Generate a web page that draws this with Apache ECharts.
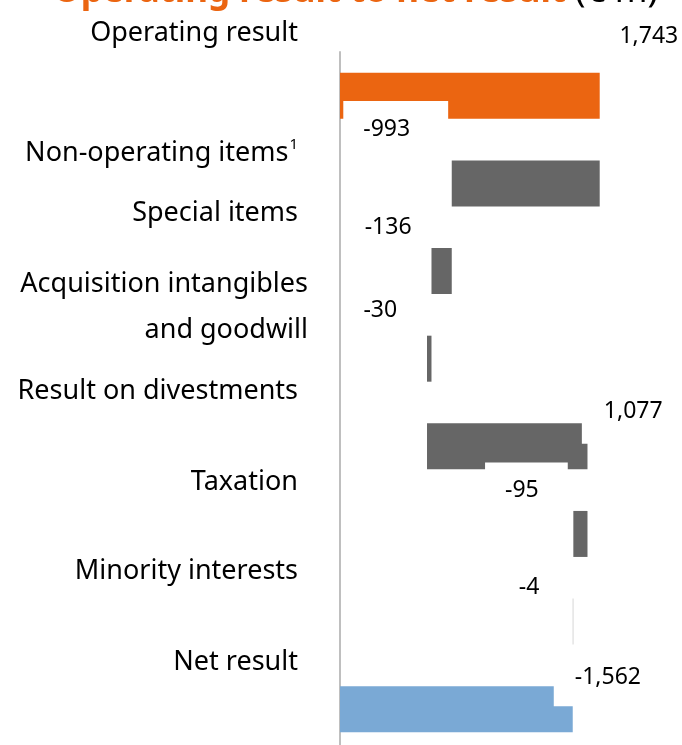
<!DOCTYPE html>
<html>
<head>
<meta charset="utf-8">
<script src="https://cdn.jsdelivr.net/npm/echarts@6/dist/echarts.min.js"></script>
<style>
  html, body { margin: 0; padding: 0; background: #fff; }
  #chart { width: 682px; height: 745px; }
</style>
</head>
<body>
<div id="chart"></div>
<script>
// waterfall steps, € m
var categories = ['Operating result', 'Non-operating items', 'Special items',
  'Acquisition intangibles\nand goodwill', 'Result on divestments', 'Taxation',
  'Minority interests', 'Net result'];
var values = [1743, -993, -136, -30, 1077, -95, -4, 1562];
var isTotal = [true, false, false, false, false, false, false, true];
var valueLabels = ['1,743', '-993', '-136', '-30', '1,077', '-95', '-4', '-1,562'];

var FONT = '"Noto Sans", sans-serif';
var ORANGE = '#EB6511';
var GREY = '#666666';
var BLUE = '#7AA9D5';

// running total -> invisible base + visible step
var base = [], step = [], run = 0;
values.forEach(function (v, i) {
  if (isTotal[i]) {
    base.push(0);
    step.push(Math.abs(v));
    run = v;
  } else {
    var next = run + v;
    base.push(Math.min(run, next));
    step.push(Math.abs(v));
    run = next;
  }
});

// how far each category label sits above its bar
var catShift = [63, 30, 58, 51, 55, 52, 50, 47];

// value label placement: offset from bar centre, white box padding
var labelCfg = [
  { offset: [179, -59] },
  { offset: [-130, -54], padding: [17, 38, 17, 20] },
  { offset: [-50, -44], padding: [10, 17, 34, 10] },
  { offset: [-49, -48] },
  { offset: [120, -35], padding: [10, 10, 32, 22] },
  { offset: [-54, -43], padding: [17, 29, 17, 20] },
  { offset: [-44, -34] },
  { offset: [146, -32], padding: [10, 10, 25, 21] }
];

var colours = values.map(function (v, i) {
  if (i === 0) return ORANGE;
  if (i === values.length - 1) return BLUE;
  if (i === 6) return '#BBBBBB';
  return GREY;
});

var yData = categories.map(function (c, i) {
  var right = (i === 3) ? 0 : 10;
  var item = {
    value: c,
    textStyle: {
      padding: [0, right, catShift[i] * 2, 0]
    }
  };
  if (i === 3) item.textStyle.lineHeight = 46;
  return item;
});

var stepData = step.map(function (v, i) {
  var cfg = labelCfg[i];
  return {
    value: v,
    itemStyle: { color: colours[i] },
    label: {
      show: true,
      position: 'inside',
      offset: cfg.offset,
      formatter: valueLabels[i],
      backgroundColor: cfg.padding ? '#fff' : 'transparent',
      padding: cfg.padding || 0
    }
  };
});

var chart = echarts.init(document.getElementById('chart'));
var option = {
  animation: false,
  title: {
    text: '{o|Operating result to net result}{k| (€ m)}',
    left: 48,
    top: -30,
    textStyle: {
      rich: {
        o: { fontSize: 35, fontWeight: 'bold', color: ORANGE, fontFamily: FONT },
        k: { fontSize: 35, fontWeight: 'normal', color: '#000', fontFamily: FONT }
      }
    }
  },
  grid: { left: 340, right: 44, top: 52, height: 701, outerBoundsMode: 'none', containLabel: false },
  xAxis: {
    type: 'value',
    min: 0,
    max: 2000,
    show: false
  },
  yAxis: {
    type: 'category',
    inverse: true,
    offset: 2,
    data: yData,
    axisLine: { show: true, lineStyle: { color: '#BFBFBF', width: 2 } },
    axisTick: { show: false },
    axisLabel: {
      interval: 0,
      margin: 30,
      fontSize: 27,
      color: '#000',
      fontFamily: FONT,
      formatter: function (v) {
        if (v === 'Non-operating items') return '{t|Non-operating items}{s|1}';
        return v;
      },
      rich: {
        t: { fontSize: 27, color: '#000', fontFamily: FONT },
        s: { fontSize: 15, color: '#000', fontFamily: FONT, verticalAlign: 'top', padding: [0, 0, 18, 1] }
      }
    }
  },
  series: [
    {
      name: 'base',
      type: 'bar',
      stack: 'wf',
      barWidth: 46,
      itemStyle: { color: 'transparent' },
      silent: true,
      data: base
    },
    {
      name: 'step',
      type: 'bar',
      stack: 'wf',
      barWidth: 46,
      label: {
        fontSize: 23,
        lineHeight: 23,
        color: '#000',
        fontFamily: FONT
      },
      data: stepData
    }
  ]
};
chart.setOption(option);
</script>
</body>
</html>
